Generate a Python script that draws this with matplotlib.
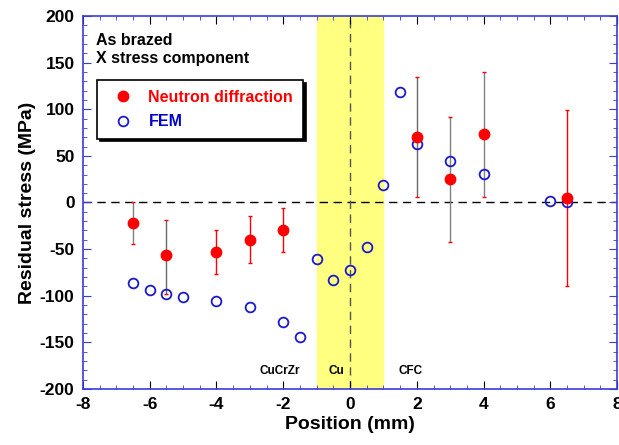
import matplotlib.pyplot as plt
from matplotlib.ticker import MultipleLocator

plt.rcParams['font.family'] = ['Liberation Sans', 'DejaVu Sans']
plt.rcParams['font.weight'] = 'bold'
plt.rcParams['axes.unicode_minus'] = False

# Neutron diffraction measurements (position, stress, error bar ends)
nd_x = [-6.5, -5.5, -4, -3, -2, 2, 3, 4, 6.5]
nd_y = [-22, -56, -53, -40, -30, 70, 25, 73, 5]
nd_top = [0, -19, -30, -15, -6, 135, 92, 140, 99]
nd_bottom = [-45, -98, -77, -65, -53, 6, -42, 6, -90]
nd_bar_colors = ['grey', 'dimgrey', 'red', 'red', 'red', 'dimgrey', 'grey', 'grey', 'red']

# FEM results
fem_x = [-6.5, -6, -5.5, -5, -4, -3, -2, -1.5, -1, -0.5, 0, 0.5, 1, 1.5, 2, 3, 4, 6, 6.5]
fem_y = [-86, -94, -98, -101, -106, -112, -128, -144, -61, -83, -72, -48, 19, 119, 63, 44, 31, 2, 0]

region_labels = ['CuCrZr', 'Cu', 'CFC']
region_x = [-2.1, -0.42, 1.8]

axis_blue = '#3b3bd9'

fig = plt.figure(figsize=(6.19, 4.45), dpi=100)
ax = fig.add_axes([0.134, 0.126, 0.863, 0.838])

# Cu interlayer band
ax.axvspan(-1, 1, color='#ffff80', zorder=0)
ax.axhline(0, color='black', linestyle=(0, (6, 4)), linewidth=1, zorder=1)
ax.axvline(0, color='#555555', linestyle=(0, (6, 4)), linewidth=1, zorder=1)

# error bars, one at a time for their colours
for x, y, t, b, c in zip(nd_x, nd_y, nd_top, nd_bottom, nd_bar_colors):
    ax.vlines(x, b, t, color=c, linewidth=1, zorder=2)
    ax.hlines([b, t], x - 0.06, x + 0.06, color='red', linewidth=1, zorder=2)

ax.plot(nd_x, nd_y, 'o', color='red', markersize=7.5, linestyle='none',
        label='Neutron diffraction', zorder=4)
ax.plot(fem_x, fem_y, 'o', markerfacecolor='none', markeredgecolor='#1a1acc',
        markeredgewidth=1.3, markersize=7, linestyle='none', label='FEM', zorder=3)

ax.set_xlim(-8, 8)
ax.set_ylim(-200, 200)
ax.xaxis.set_major_locator(MultipleLocator(2))
ax.xaxis.set_minor_locator(MultipleLocator(0.5))
ax.yaxis.set_major_locator(MultipleLocator(50))
ax.yaxis.set_minor_locator(MultipleLocator(10))

ax.tick_params(axis='both', which='both', direction='in', top=True, right=True,
               labelsize=12.5, pad=6)
ax.tick_params(axis='x', which='major', length=6, color='black')
ax.tick_params(axis='x', which='minor', length=3, color=axis_blue)
ax.tick_params(axis='y', which='major', length=6, color=axis_blue)
ax.tick_params(axis='y', which='minor', length=3, color=axis_blue)
for lab in ax.get_xticklabels() + ax.get_yticklabels():
    lab.set_fontweight('bold')
for s in ax.spines.values():
    s.set_color(axis_blue)
    s.set_linewidth(1.2)

ax.set_xlabel('Position (mm)', fontsize=14, fontweight='bold', labelpad=3)
ax.set_ylabel('Residual stress (MPa)', fontsize=14, fontweight='bold', labelpad=3)

ax.text(0.025, 0.955, 'As brazed\nX stress component', transform=ax.transAxes,
        fontsize=11.5, fontweight='bold', va='top', linespacing=1.3)

for lab, x in zip(region_labels, region_x):
    ax.text(x, -181, lab, fontsize=8.5, fontweight='bold', ha='center', va='center')

leg = ax.legend(loc='upper left', bbox_to_anchor=(0.012, 0.85), fancybox=False,
                shadow={'color': 'black', 'alpha': 1}, edgecolor='black', framealpha=1,
                prop={'weight': 'bold', 'size': 11.5}, handletextpad=0.6,
                borderpad=0.6, labelspacing=0.6)
leg.get_frame().set_linewidth(1.2)
leg.get_texts()[0].set_color('red')
leg.get_texts()[1].set_color('#0000cc')

fig.savefig('out.png', dpi=100)
